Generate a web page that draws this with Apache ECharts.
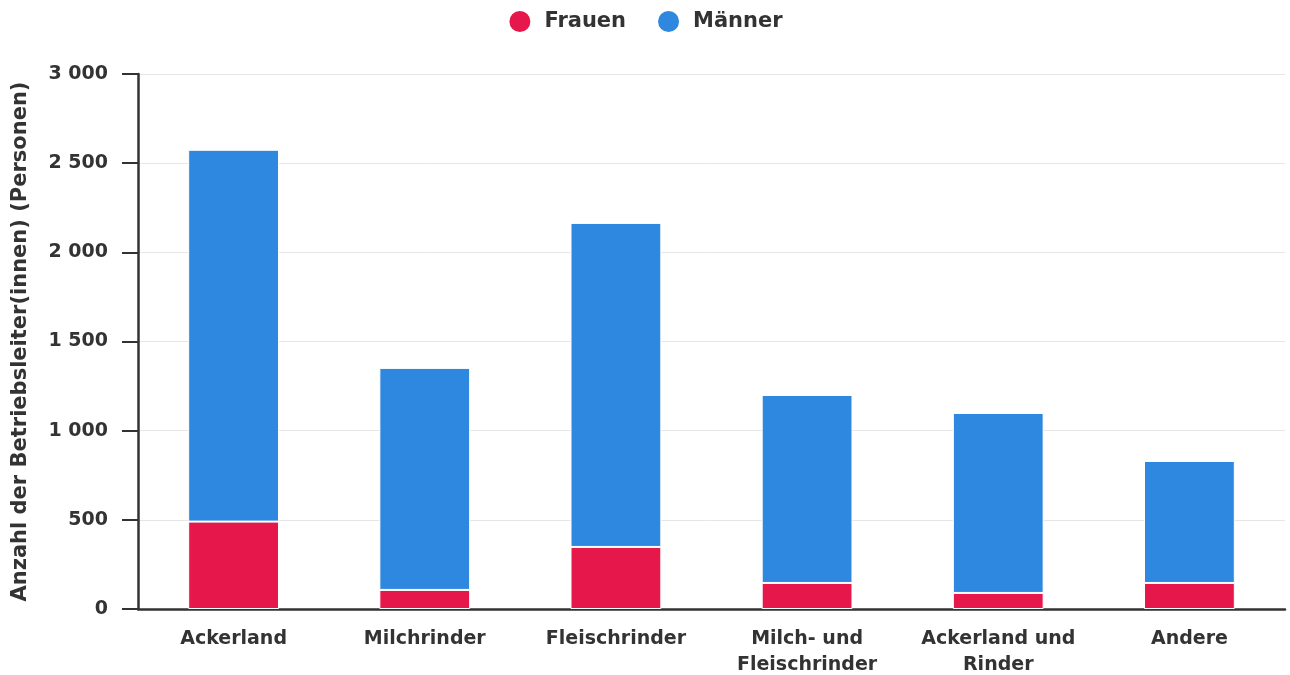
<!DOCTYPE html>
<html>
<head>
<meta charset="utf-8">
<script src="https://cdn.jsdelivr.net/npm/echarts@6/dist/echarts.min.js"></script>
<style>
  html, body { margin: 0; padding: 0; background: #fff; }
  #main { width: 1290px; height: 675px; }
</style>
</head>
<body>
<div id="main"></div>
<script>
// Kategorien und Werte
var categories = ['Ackerland', 'Milchrinder', 'Fleischrinder', 'Milch- und\nFleischrinder', 'Ackerland und\nRinder', 'Andere'];
var frauen = [490, 107, 348, 146, 90, 146];
var maenner = [2085, 1245, 1817, 1054, 1009, 684];
var yTicks = [0, 500, 1000, 1500, 2000, 2500, 3000];

var fontFam = '"DejaVu Sans", sans-serif';

function fmt(v) {
    // Tausendertrennzeichen als Leerzeichen
    return String(v).replace(/\B(?=(\d{3})+(?!\d))/g, ' ');
}

var chart = echarts.init(document.getElementById('main'));
var option = {
    animation: false,
    textStyle: { fontFamily: fontFam },
    legend: {
        top: 4,
        left: 'center',
        icon: 'circle',
        itemWidth: 23,
        itemHeight: 23,
        itemGap: 30,
        textStyle: { fontFamily: fontFam, fontWeight: 'bold', fontSize: 21, color: '#333', padding: [0, 0, 0, 8] },
        data: ['Frauen', 'Männer']
    },
    grid: {
        left: 138,
        right: 5,
        top: 74,
        bottom: 66,
        containLabel: false,
        outerBoundsMode: 'none'
    },
    xAxis: {
        type: 'category',
        data: categories,
        axisLine: { lineStyle: { color: '#333', width: 2.5 } },
        axisTick: { show: false },
        axisLabel: {
            fontFamily: fontFam,
            fontWeight: 'bold',
            fontSize: 19,
            color: '#333',
            margin: 17,
            lineHeight: 26,
            interval: 0
        }
    },
    yAxis: {
        type: 'value',
        min: yTicks[0],
        max: yTicks[yTicks.length - 1],
        interval: 500,
        name: 'Anzahl der Betriebsleiter(innen) (Personen)',
        nameLocation: 'middle',
        nameGap: 107,
        nameTextStyle: { fontFamily: fontFam, fontWeight: 'bold', fontSize: 21, color: '#333' },
        axisLine: { show: true, lineStyle: { color: '#333', width: 2.5 } },
        axisTick: { show: true, length: 16, lineStyle: { color: '#333', width: 2 } },
        axisLabel: {
            fontFamily: fontFam,
            fontWeight: 'bold',
            fontSize: 19,
            color: '#333',
            margin: 30,
            formatter: function (v) { return fmt(v); }
        },
        splitLine: { lineStyle: { color: '#e6e6e6', width: 1 } }
    },
    series: [{
        name: 'Frauen',
        type: 'bar',
        stack: 'total',
        barWidth: '47.5%',
        data: frauen,
        itemStyle: { color: '#e6174a', borderColor: '#fff', borderWidth: 1 }
    }, {
        name: 'Männer',
        type: 'bar',
        stack: 'total',
        barWidth: '47.5%',
        data: maenner,
        itemStyle: { color: '#2e88e0', borderColor: '#fff', borderWidth: 1 }
    }]
};
chart.setOption(option);
</script>
</body>
</html>
